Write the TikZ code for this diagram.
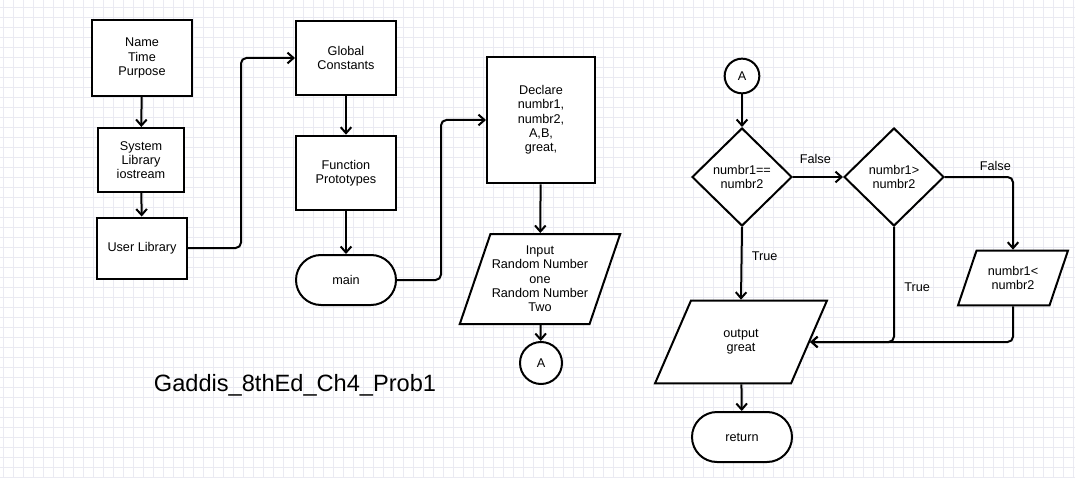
\documentclass[tikz,border=0pt]{standalone}
\usepackage{fontspec}
\setmainfont{Liberation Sans}
\usetikzlibrary{shapes.geometric,arrows.meta}

\tikzset{
  base/.style={draw, line width=1.5pt, fill=white, align=center, inner sep=1pt,
    font=\fontsize{9.5}{10.75}\selectfont},
  procbox/.style={base, rectangle},
  termbox/.style={base, rectangle, rounded corners=18.75pt, minimum width=75pt, minimum height=37.5pt},
  iobox/.style={base, trapezium, trapezium stretches=true},
  decbox/.style={base, diamond, minimum width=75pt, minimum height=73.5pt, inner sep=0pt},
  conbox/.style={base, circle, inner sep=0pt},
  flow/.style={line width=1.5pt, rounded corners=4pt, -{Straight Barb[length=4.5pt,width=8pt]}},
  lbl/.style={font=\fontsize{9.5}{10.75}\selectfont, inner sep=2pt},
  gridline/.style={line width=0.35pt, draw={rgb,255:red,234;green,234;blue,242}}
}

\begin{document}
\begin{tikzpicture}[x=0.75pt, y=-0.75pt]
\fill[white] (0,0) rectangle (1075,478);
\useasboundingbox (0,0) rectangle (1075,478);
\foreach \gx in {3,13,...,1073} \draw[gridline] (\gx,0) -- (\gx,478);
\foreach \gy in {7,17,...,477} \draw[gridline] (0,\gy) -- (1075,\gy);

\node[procbox, minimum width=75pt, minimum height=57pt] (name) at (142,58) {Name\\Time\\Purpose};
\node[procbox, minimum width=64.5pt, minimum height=48pt] (sys) at (141,160) {System\\Library\\iostream};
\node[procbox, minimum width=67.5pt, minimum height=45.75pt] (user) at (142,248) {User Library};
\node[procbox, minimum width=75pt, minimum height=56pt] (glob) at (346,58) {Global\\Constants};
\node[procbox, minimum width=75pt, minimum height=56pt] (func) at (346,173) {Function\\Prototypes};
\node[termbox] (main) at (346,280) {main};
\node[procbox, minimum width=81pt, minimum height=95pt] (decl) at (541,120) {Declare\\numbr1,\\numbr2,\\A,B,\\great,};
\node[iobox, trapezium left angle=66, trapezium right angle=114, minimum width=120pt, minimum height=67.5pt] (input) at (540,279)
  {Input\\Random Number\\one\\Random Number\\Two};
\node[conbox, minimum size=31.5pt] (conA) at (541,363) {A};
\node[font=\fontsize{17.7}{21}\selectfont] (title) at (295,385) {Gaddis\_8thEd\_Ch4\_Prob1};

\node[conbox, minimum size=26pt] (conB) at (742,76) {A};
\node[decbox] (eq) at (742,177) {numbr1==\\numbr2};
\node[decbox] (gt) at (894,177) {numbr1>\\numbr2};
\node[iobox, trapezium left angle=63, trapezium right angle=117, minimum width=82.5pt, minimum height=41pt] (lt) at (1013,278) {numbr1<\\numbr2};
\node[iobox, trapezium left angle=64, trapezium right angle=116, minimum width=129pt, minimum height=62pt] (out) at (741,342) {output\\great};
\node[termbox] (ret) at (742,437) {return};

\draw[flow] (name) -- (sys);
\draw[flow] (sys) -- (user);
\draw[flow] (user.east) -- ++(53,0) |- (glob.west);
\draw[flow] (glob) -- (func);
\draw[flow] (func) -- (main);
\draw[flow] (main.east) -- ++(44,0) |- (decl.west);
\draw[flow] (decl) -- (input);
\draw[flow] (input) -- (conA);

\draw[flow] (conB) -- (eq);
\draw[flow] (eq.east) -- node[lbl, above=7pt, xshift=-2pt] {False} (gt.west);
\draw[flow] (eq.south) -- node[lbl, right=5pt, pos=0.4] {True} (out.north);
\draw[flow] (gt.east) -| node[lbl, above=2pt, pos=0.37] {False} (lt.north);
\draw[flow] (gt.south) |- node[lbl, right=5pt, pos=0.26] {True} (out.east);
\draw[flow] (lt.south) |- (out.east);
\draw[flow] (out) -- (ret);
\end{tikzpicture}
\end{document}
